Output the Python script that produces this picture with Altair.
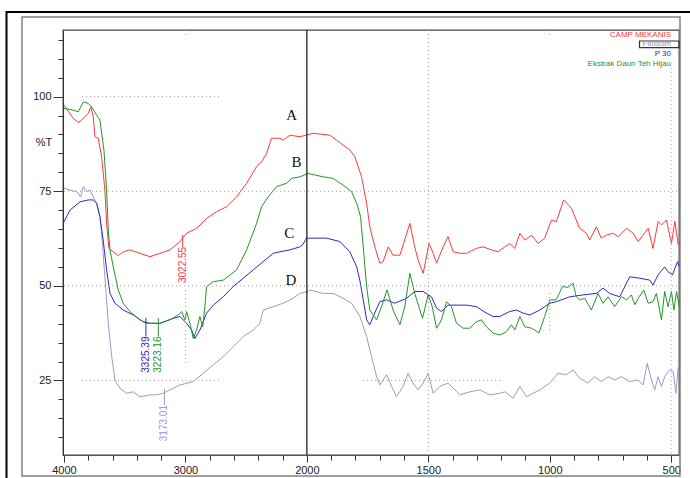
import altair as alt
import pandas as pd

# ---------------- data (wavenumber cm-1, %T) ----------------
camp_wn = [4000,3923,3882,3854,3800,3780,3759,3745,3718,3690,3663,3649,3630,3594,3553,3512,3457,3375,3292,3210,
           3128,3045,2990,2908,2826,2743,2661,2579,2496,2414,2373,2332,2291,2222,2195,2140,2058,1974,1905,1878,
           1851,1823,1802,1775,1754,1741,1720,1700,1686,1665,1645,1617,1576,1556,1542,1521,1497,1480,1466,1439,
           1419,1398,1370,1343,1302,1274,1240,1213,1185,1165,1144,1123,1103,1075,1048,1021,993,973,943,911,
           877,849,836,808,788,767,740,719,684,657,636,616,595,575,554,540,520,499,485,471]
camp_t = [97.8,94.2,93.2,93.8,95.6,97.3,94.7,89.4,89.0,84.1,75.3,66.5,59.9,59.0,58.0,59.0,59.5,58.6,57.7,58.6,
          59.5,61.7,63.9,65.2,67.8,69.6,70.9,73.5,77.1,81.5,82.8,85.0,89.0,89.0,88.5,89.8,89.4,90.3,89.8,88.5,
          87.2,85.9,84.1,78.8,71.8,65.6,60.3,56.0,56.4,60.3,58.1,58.1,66.5,60.3,56.8,53.3,61.2,58.6,56.0,60.3,
          63.0,59.0,58.6,58.6,59.9,60.3,59.5,59.0,60.3,61.2,59.9,63.9,62.1,63.4,61.2,62.6,67.4,66.9,72.7,70.5,
          65.2,63.9,62.1,65.6,62.6,63.4,63.9,63.0,65.2,63.9,61.7,63.4,65.2,59.9,67.0,66.1,67.4,61.2,67.0,60.8]

teh_wn = [4000,3923,3882,3841,3800,3773,3731,3704,3671,3649,3635,3621,3594,3553,3512,3457,3375,3319,3210,3128,
          3059,3031,3004,2990,2963,2936,2908,2881,2858,2840,2826,2771,2689,2579,2496,2414,2373,2319,2250,2167,
          2126,2058,1995,1933,1892,1851,1816,1795,1779,1768,1754,1741,1713,1693,1670,1645,1617,1597,1576,1556,
          1524,1501,1484,1466,1446,1425,1405,1384,1357,1329,1302,1281,1261,1233,1206,1178,1158,1144,1123,1103,
          1075,1044,1021,1000,973,948,925,904,891,877,856,829,801,781,760,733,705,684,664,650,
          632,613,595,575,561,540,527,513,499,489,478,467]
teh_t = [96.9,96.4,96.0,98.6,98.2,97.3,95.1,93.8,85.9,75.3,64.7,59.5,55.0,48.9,45.4,43.2,41.0,40.1,40.1,41.0,
         42.3,43.2,41.0,43.2,40.1,36.1,38.3,41.9,39.2,44.5,49.8,51.1,51.5,54.2,59.5,66.5,70.9,73.5,76.2,77.1,
         78.4,78.8,79.7,78.8,78.4,76.6,74.9,71.8,68.3,60.3,49.8,43.6,41.0,44.5,48.9,43.6,39.7,44.5,53.3,48.0,
         41.4,47.6,44.5,38.8,41.0,45.8,44.5,40.1,38.8,38.8,40.5,41.0,39.2,37.5,37.0,37.9,39.7,38.3,41.9,39.2,
         38.8,37.6,41.9,46.3,46.3,49.8,49.6,50.7,47.1,46.3,46.7,43.6,48.0,45.4,47.1,44.5,47.1,46.3,47.6,45.0,
         47.1,48.9,45.4,45.8,48.0,41.0,48.5,44.5,48.5,43.6,48.5,44.5]

p30_wn = [4000,3951,3868,3800,3759,3731,3704,3677,3649,3621,3580,3512,3430,3347,3292,3210,3128,3045,2990,2949,
          2922,2881,2826,2771,2689,2607,2524,2442,2360,2277,2222,2140,2058,2031,2003,1919,1864,1823,1795,1782,
          1768,1754,1741,1727,1700,1672,1638,1590,1556,1521,1487,1466,1446,1419,1384,1343,1302,1261,1233,1206,
          1165,1137,1110,1082,1041,1000,973,918,863,808,781,754,712,698,671,629,588,575,554,527,
          513,495,485,474,467]
p30_t = [66.9,70.0,72.2,72.7,72.7,71.8,68.3,62.1,54.2,48.0,45.4,43.6,42.3,40.5,40.1,40.1,41.1,41.9,40.1,38.3,
         36.1,38.3,42.8,44.9,47.1,49.8,52.0,54.2,56.4,58.6,59.0,59.5,60.3,61.0,62.6,62.6,61.7,59.0,55.0,51.5,
         46.3,41.0,39.7,41.9,45.8,46.3,45.4,46.7,48.5,48.5,47.1,44.1,43.2,44.9,44.9,44.9,44.5,42.8,41.9,41.9,
         43.2,43.6,42.8,42.3,43.6,45.4,45.8,47.1,47.6,48.0,49.4,48.0,47.1,48.9,52.4,52.0,51.5,50.2,52.9,55.0,
         53.7,52.9,54.6,56.4,55.0]

fito_wn = [4000,3951,3895,3863,3841,3813,3786,3759,3731,3704,3690,3663,3635,3607,3580,3539,3484,3430,3375,3292,
           3237,3183,3128,3045,2936,2853,2771,2689,2607,2524,2442,2387,2360,2277,2195,2113,2058,1995,1988,1933,
           1892,1851,1816,1782,1754,1734,1713,1700,1672,1651,1631,1604,1583,1563,1542,1521,1501,1480,1453,1419,
           1398,1370,1329,1288,1247,1206,1185,1151,1123,1096,1069,1041,1000,966,932,904,877,843,815,788,
           760,733,705,671,636,616,599,581,568,554,540,527,506,492,481,471]
fito_t = [75.8,75.3,74.9,73.5,76.2,74.9,75.3,73.5,71.8,68.3,63.9,52.4,40.1,31.3,25.1,22.9,21.6,22.0,20.7,21.2,
          21.2,21.6,22.5,23.8,24.7,26.9,29.1,31.3,33.9,36.6,38.3,40.1,43.6,44.5,45.4,46.7,48.0,48.5,48.9,48.0,
          48.0,46.7,45.4,41.9,36.6,31.3,26.0,23.8,26.5,23.4,20.7,23.4,26.9,24.3,22.5,24.3,26.9,21.6,23.4,24.3,
          23.0,21.2,22.0,22.5,21.2,21.6,22.0,20.3,23.4,20.7,21.6,22.5,24.3,26.9,26.5,27.8,25.6,24.3,26.0,24.7,
          26.0,25.1,26.0,24.7,25.1,23.8,29.5,25.1,22.5,26.0,23.4,26.0,27.8,27.4,21.6,28.7]

series_names = ["Fitosom", "CAMP MEKANIS", "P 30", "Ekstrak Daun Teh Hijau"]
series_colors = ["#9a9ac6", "#ff3838", "#2a2ac8", "#23962a"]
curve_letters = ["A", "B", "C", "D"]
letter_wn = [2126, 2085, 2146, 2132]
letter_t = [95.1, 82.8, 63.9, 51.5]

peak_labels = ["3022.55", "3325.39", "3223.16", "3173.01"]
peak_series = ["CAMP MEKANIS", "P 30", "Ekstrak Daun Teh Hijau", "Fitosom"]
peak_wn = [3022.55, 3325.39, 3223.16, 3173.01]
peak_t_top = [63.5, 41.5, 41.5, 22.8]
peak_t_bot = [60.3, 36.6, 36.6, 18.5]

x_ticks = list(range(500, 3001, 100))      # compressed-axis positions
y_ticks = list(range(10, 116, 5))

hgrid_t = [100, 75, 50, 25, 25]
hgrid_from = [3852, 4000, 4000, 3852, 1768]
hgrid_to = [2718, 468, 468, 2718, 1198]
vgrid_wn = [3000, 3000, 1500, 1000, 1000, 500]
vgrid_from = [117.6, 48.9, 117.6, 117.6, 48.1, 107.5]
vgrid_to = [116.3, 29.6, 5.3, 116.3, 38.3, 5.3]

# ---------------- tables ----------------
curves = {"CAMP MEKANIS": (camp_wn, camp_t), "Ekstrak Daun Teh Hijau": (teh_wn, teh_t),
          "P 30": (p30_wn, p30_t), "Fitosom": (fito_wn, fito_t)}
rows = []
for name in series_names:
    wn, t = curves[name]
    assert len(wn) == len(t), name
    rows += [{"series": name, "wn": a, "T": b} for a, b in zip(wn, t)]
df = pd.DataFrame(rows)

letters_df = pd.DataFrame({"label": curve_letters, "wn": letter_wn, "T": letter_t})
peaks_df = pd.DataFrame({"label": peak_labels, "series": peak_series, "wn": peak_wn,
                         "t1": peak_t_top, "t2": peak_t_bot})
hgrid_df = pd.DataFrame({"T": hgrid_t, "w1": hgrid_from, "w2": hgrid_to})
vgrid_df = pd.DataFrame({"wn": vgrid_wn, "t1": vgrid_from, "t2": vgrid_to})
cursor_df = pd.DataFrame({"wn": [2000]})
one = pd.DataFrame({"k": [0]})


def xp(f):
    return f"datum.{f} > 2000 ? 2000 + (datum.{f} - 2000) / 2 : datum.{f}"


FONT = "Liberation Sans"
xscale = alt.Scale(domain=[468, 3004], reverse=True, nice=False, zero=False)
yscale = alt.Scale(domain=[5.3, 117.6], nice=False, zero=False)
cscale = alt.Scale(domain=series_names, range=series_colors)

x_axis = alt.Axis(values=x_ticks, title=None, grid=False, labelOverlap=False, labelFlush=False,
                  labelExpr="datum.value % 500 === 0 ? (datum.value > 2000 ? 2000 + (datum.value - 2000) * 2 : datum.value) : ''",
                  tickSize={"condition": {"test": "datum.value % 500 === 0", "value": 7}, "value": 5},
                  labelPadding=2, labelFont=FONT, labelFontSize=11, labelColor="#222",
                  tickColor="#333", domainColor="#555")
y_axis = alt.Axis(values=y_ticks, title=None, grid=False, labelOverlap=False, labelFlush=False,
                  labelExpr="datum.value % 25 === 0 ? datum.value : ''",
                  tickSize={"condition": {"test": "datum.value % 25 === 0", "value": 10}, "value": 5},
                  labelPadding=2, labelFont=FONT, labelFontSize=11, labelColor="#222",
                  tickColor="#333", domainColor="#333")

XQ = dict(scale=xscale, axis=x_axis)
YQ = dict(scale=yscale, axis=y_axis)

lines = alt.Chart(df).transform_calculate(x=xp("wn")).mark_line(strokeWidth=1).encode(
    x=alt.X("x:Q", **XQ),
    y=alt.Y("T:Q", **YQ),
    color=alt.Color("series:N", scale=cscale, legend=None),
    order=alt.Order("x:Q"))

frames = alt.layer(
    alt.Chart(one).mark_rect(fillOpacity=0, stroke="#000", strokeWidth=2).encode(
        x=alt.value(-56.5), x2=alt.value(660), y=alt.value(-18), y2=alt.value(470)),
    alt.Chart(one).mark_rect(fillOpacity=0, stroke="#808080", strokeWidth=1.5).encode(
        x=alt.value(-41), x2=alt.value(617), y=alt.value(-13), y2=alt.value(446)),
)

hgrid = alt.Chart(hgrid_df).transform_calculate(x1=xp("w1"), x2=xp("w2")).mark_rule(
    color="#9a9a9a", strokeDash=[1, 3], strokeWidth=1).encode(
    x=alt.X("x1:Q", **XQ), x2="x2:Q", y=alt.Y("T:Q", **YQ))

vgrid = alt.Chart(vgrid_df).transform_calculate(x=xp("wn")).mark_rule(
    color="#9a9a9a", strokeDash=[1, 3], strokeWidth=1).encode(
    x=alt.X("x:Q", **XQ), y=alt.Y("t1:Q", **YQ), y2="t2:Q")

cursor = alt.Chart(cursor_df).transform_calculate(x=xp("wn")).mark_rule(
    color="#222", strokeWidth=1.3).encode(
    x=alt.X("x:Q", **XQ), y=alt.value(0), y2=alt.value(425))

peak_ticks = alt.Chart(peaks_df).transform_calculate(x=xp("wn")).mark_rule(strokeWidth=1).encode(
    x=alt.X("x:Q", **XQ), y=alt.Y("t1:Q", **YQ), y2="t2:Q",
    color=alt.Color("series:N", scale=cscale, legend=None))

peak_text = alt.Chart(peaks_df).transform_calculate(x=xp("wn")).mark_text(
    angle=270, align="right", baseline="middle", font=FONT, fontSize=10).encode(
    x=alt.X("x:Q", **XQ), y=alt.Y("t2:Q", **YQ),
    text="label:N", color=alt.Color("series:N", scale=cscale, legend=None))

letters = alt.Chart(letters_df).transform_calculate(x=xp("wn")).mark_text(
    font="Liberation Serif", fontSize=15, color="#111", align="center", baseline="middle").encode(
    x=alt.X("x:Q", **XQ), y=alt.Y("T:Q", **YQ), text="label:N")

legend_names = ["CAMP MEKANIS", "Fitosom", "P 30", "Ekstrak Daun Teh Hijau"]
legend_cols = ["#ff3838", "#8c8cc8", "#2a2ac8", "#23962a"]
legend_y = [5, 14.3, 23.7, 33.7]
legend_layers = [
    alt.Chart(one).mark_rect(fillOpacity=0, stroke="#333", strokeWidth=1.2).encode(
        x=alt.value(576.5), x2=alt.value(616), y=alt.value(11), y2=alt.value(17.7))
]
for nm, col, yy in zip(legend_names, legend_cols, legend_y):
    legend_layers.append(alt.Chart(one).mark_text(
        text=nm, font=FONT, fontSize=8, color=col, align="right", baseline="middle").encode(
        x=alt.value(608), y=alt.value(yy)))

ylabel = alt.Chart(one).mark_text(text="%T", font=FONT, fontSize=11, color="#222",
                                  align="center", baseline="middle").encode(
    x=alt.value(-19), y=alt.value(113))

chart = alt.layer(
    lines, frames, hgrid, vgrid, cursor, peak_ticks, peak_text, letters, ylabel, *legend_layers
).properties(
    width=616, height=425,
    autosize=alt.AutoSizeParams(type="none"),
    padding={"left": 63, "top": 30, "right": 11, "bottom": 23},
    background="white",
).configure_view(stroke="#444", strokeWidth=1.3).configure_axis(labelOverlap=False)

chart.save("out.html", embed_options={"renderer": "svg", "actions": False})
